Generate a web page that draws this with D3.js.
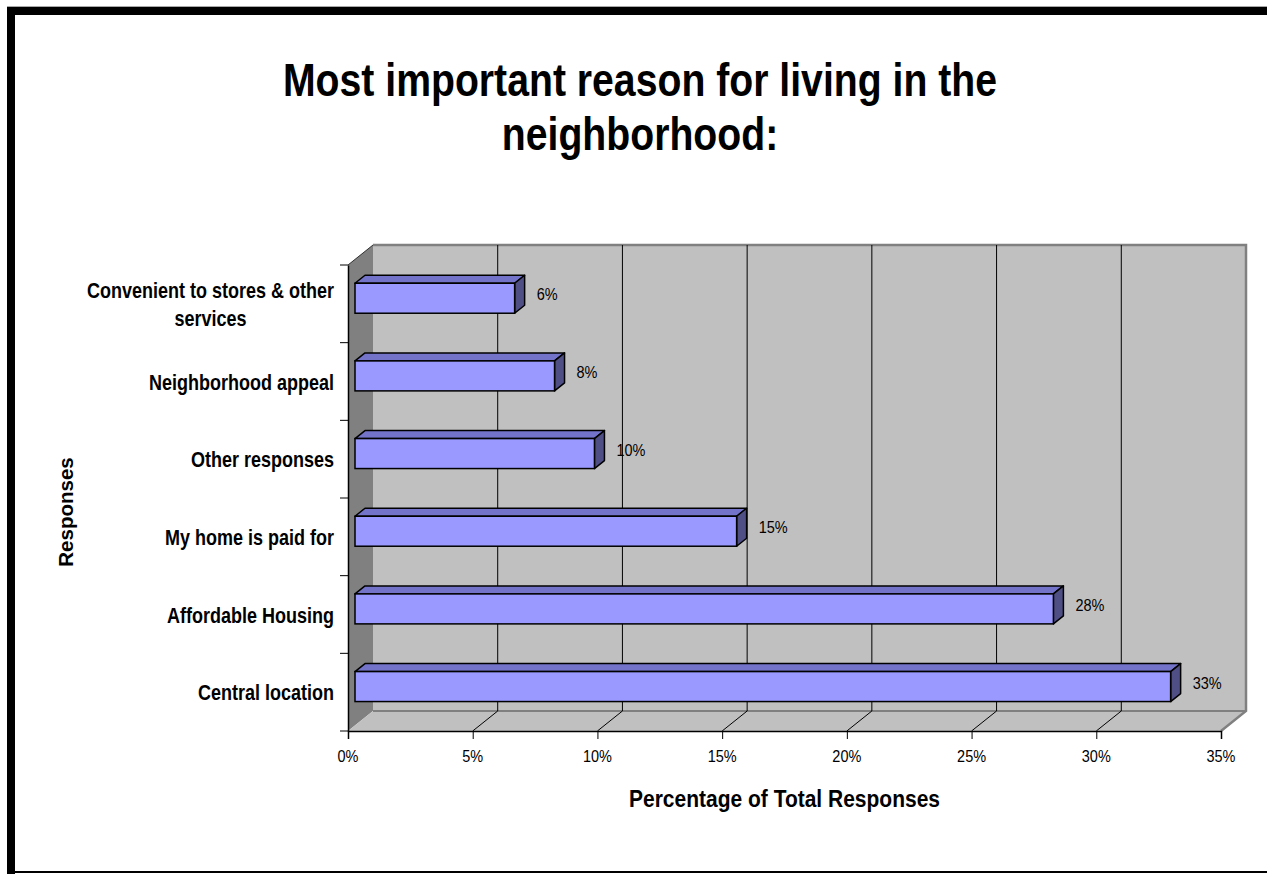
<!DOCTYPE html>
<html>
<head>
<meta charset="utf-8">
<script src="https://cdn.jsdelivr.net/npm/d3@7"></script>
<style>
  html, body { margin: 0; padding: 0; background: #ffffff; }
  svg { display: block; }
  text { font-family: "Liberation Sans", Arial, sans-serif; fill: #000; }
</style>
</head>
<body>
<svg id="chart" width="1267" height="874"></svg>
<script>
// Survey answers, bottom bar first
const categories = [
  "Central location",
  "Affordable Housing",
  "My home is paid for",
  "Other responses",
  "Neighborhood appeal",
  "Convenient to stores & other services"
];
const values = [32.7, 28.0, 15.3, 9.6, 8.0, 6.4];   // percent of total responses
const xTicks = [0, 5, 10, 15, 20, 25, 30, 35];
const titleLines = ["Most important reason for living in the", "neighborhood:"];
const xAxisTitle = "Percentage of Total Responses";
const yAxisTitle = "Responses";

const svg = d3.select("#chart");
const SY = 1.18;            // tall, narrow lettering
const pct = d3.format(".0%");

// frame
svg.append("rect").attr("x", 7).attr("y", 6).attr("width", 1260).attr("height", 1).attr("fill", "#a8a8a8");
svg.append("rect").attr("x", 7).attr("y", 7).attr("width", 1260).attr("height", 8).attr("fill", "#000");
svg.append("rect").attr("x", 7).attr("y", 7).attr("width", 8).attr("height", 867).attr("fill", "#000");
svg.append("rect").attr("x", 7).attr("y", 871).attr("width", 1260).attr("height", 2).attr("fill", "#000");

// scales on the front plane of the 3-D box
const x = d3.scaleLinear().domain([0, 35]).range([348, 1221]);
const y = d3.scaleBand().domain(categories).range([731, 265]).padding(0);
const DX = 25, DY = -20;    // depth of the box
const yTop = y.range()[1], yBot = y.range()[0];

const g = svg.append("g");

// left side wall
g.append("path")
  .attr("d", `M${x(0)},${yTop} L${x(0) + DX},${yTop + DY} L${x(0) + DX},${yBot + DY} L${x(0)},${yBot} Z`)
  .attr("fill", "#808080");
// floor
g.append("path")
  .attr("d", `M${x(0)},${yBot} L${x(35)},${yBot} L${x(35) + DX},${yBot + DY} L${x(0) + DX},${yBot + DY} Z`)
  .attr("fill", "#c0c0c0");
// back wall
g.append("rect")
  .attr("x", x(0) + DX).attr("y", yTop + DY)
  .attr("width", x(35) - x(0)).attr("height", yBot - yTop)
  .attr("fill", "#c0c0c0");
// wall & floor edges
g.append("path")
  .attr("d", `M${x(0) + DX},${yTop + DY} L${x(35) + DX},${yTop + DY} L${x(35) + DX},${yBot + DY} L${x(35)},${yBot}`)
  .attr("fill", "none").attr("stroke", "#808080").attr("stroke-width", 2.5);
g.append("line")
  .attr("x1", x(0) + DX).attr("x2", x(35) + DX)
  .attr("y1", yBot + DY).attr("y2", yBot + DY)
  .attr("stroke", "#808080").attr("stroke-width", 2);

// gridlines on back wall and floor
const inner = xTicks.filter(t => t > 0 && t < 35);
g.selectAll(".grid").data(inner).join("line")
  .attr("x1", d => x(d) + DX).attr("x2", d => x(d) + DX)
  .attr("y1", yTop + DY).attr("y2", yBot + DY)
  .attr("stroke", "#000").attr("stroke-width", 1);
g.selectAll(".floorgrid").data(inner).join("line")
  .attr("x1", d => x(d) + DX).attr("y1", yBot + DY)
  .attr("x2", d => x(d)).attr("y2", yBot)
  .attr("stroke", "#000").attr("stroke-width", 1);

// top edge of the side wall
g.append("line")
  .attr("x1", x(0)).attr("y1", yTop).attr("x2", x(0) + DX).attr("y2", yTop + DY)
  .attr("stroke", "#303030").attr("stroke-width", 1);

// axes
const xAxis = d3.axisBottom(x).tickValues(xTicks).tickSize(8).tickFormat("");
const xg = g.append("g").attr("transform", `translate(0,${yBot})`).call(xAxis);
xg.select(".domain").attr("stroke", "#000").attr("stroke-width", 1.5);
xg.selectAll(".tick line").attr("stroke", "#000");

const yAxis = d3.axisLeft(y).tickSize(0).tickFormat("");
const yg = g.append("g").attr("transform", `translate(${x(0)},0)`).call(yAxis);
yg.select(".domain").attr("stroke", "#000").attr("stroke-width", 1.5);
// ticks at category boundaries
const bounds = categories.map(c => y(c)).concat([yBot]);
g.selectAll(".ytick").data(bounds).join("line")
  .attr("x1", x(0) - 8).attr("x2", x(0))
  .attr("y1", d => d).attr("y2", d => d)
  .attr("stroke", "#000").attr("stroke-width", 1);

// text helper: vertically stretched lettering
function label(parent, tx, ty, str, size, weight, anchor) {
  return parent.append("text")
    .attr("transform", `translate(${tx},${ty}) scale(1,${SY})`)
    .attr("text-anchor", anchor)
    .style("font-size", size + "px")
    .style("font-weight", weight)
    .text(str);
}

// x tick labels
xTicks.forEach(t => label(g, x(t), 762, pct(t / 100), 14.5, "normal", "middle"));

// bars: front face sits part-way into the depth of the box
const zFront = 0.28, zBack = 0.68;
const barH = y.bandwidth() * 0.386;
const bdx = (zBack - zFront) * DX, bdy = (zBack - zFront) * DY;
const bars = g.selectAll(".bar").data(categories.map((c, i) => ({ c, v: values[i] }))).join("g");
bars.each(function(d) {
  const sel = d3.select(this);
  const x0 = x(0) + zFront * DX;
  const x1 = x(d.v) + zFront * DX;
  const cy = y(d.c) + y.bandwidth() / 2 + zFront * DY;
  const t = cy - barH / 2, b = cy + barH / 2;
  sel.append("path")
    .attr("d", `M${x0},${t} L${x1},${t} L${x1 + bdx},${t + bdy} L${x0 + bdx},${t + bdy} Z`)
    .attr("fill", "#7373c9").attr("stroke", "#000").attr("stroke-width", 1.5).attr("stroke-linejoin", "round");
  sel.append("path")
    .attr("d", `M${x1},${t} L${x1 + bdx},${t + bdy} L${x1 + bdx},${b + bdy} L${x1},${b} Z`)
    .attr("fill", "#4f4f86").attr("stroke", "#000").attr("stroke-width", 1.5).attr("stroke-linejoin", "round");
  sel.append("rect")
    .attr("x", x0).attr("y", t).attr("width", x1 - x0).attr("height", barH)
    .attr("fill", "#9999ff").attr("stroke", "#000").attr("stroke-width", 1.5);
  label(sel, x1 + bdx + 12, cy + 2, pct(d.v / 100), 14.5, "normal", "start");
});

// category labels, wrapped and centred on their own block
const catG = g.append("g");
categories.forEach(c => {
  const words = c.split(" ");
  const lines = [];
  let cur = "";
  const probe = catG.append("text").style("font-size", "18px").style("font-weight", "bold");
  words.forEach(w => {
    const test = cur ? cur + " " + w : w;
    probe.text(test);
    if (probe.node().getComputedTextLength() > 255 && cur) { lines.push(cur); cur = w; }
    else cur = test;
  });
  lines.push(cur);
  const widths = lines.map(l => { probe.text(l); return probe.node().getComputedTextLength(); });
  probe.remove();
  const blockW = d3.max(widths);
  const right = 334;
  const cx = right - blockW / 2;
  const cy = y(c) + y.bandwidth() / 2;
  const lh = 28;
  lines.forEach((l, i) => {
    const ly = cy + 8 + (i - (lines.length - 1) / 2) * lh;
    label(catG, cx, ly, l, 18, "bold", "middle");
  });
});

// titles
titleLines.forEach((l, i) => label(svg, 640, 96 + i * 54, l, 39.2, "bold", "middle"));
label(svg, (x(0) + x(35)) / 2, 807, xAxisTitle, 21, "bold", "middle");
svg.append("text")
  .attr("transform", `translate(73,512) rotate(-90)`)
  .attr("text-anchor", "middle")
  .style("font-size", "20.5px").style("font-weight", "bold")
  .text(yAxisTitle);
</script>
</body>
</html>
